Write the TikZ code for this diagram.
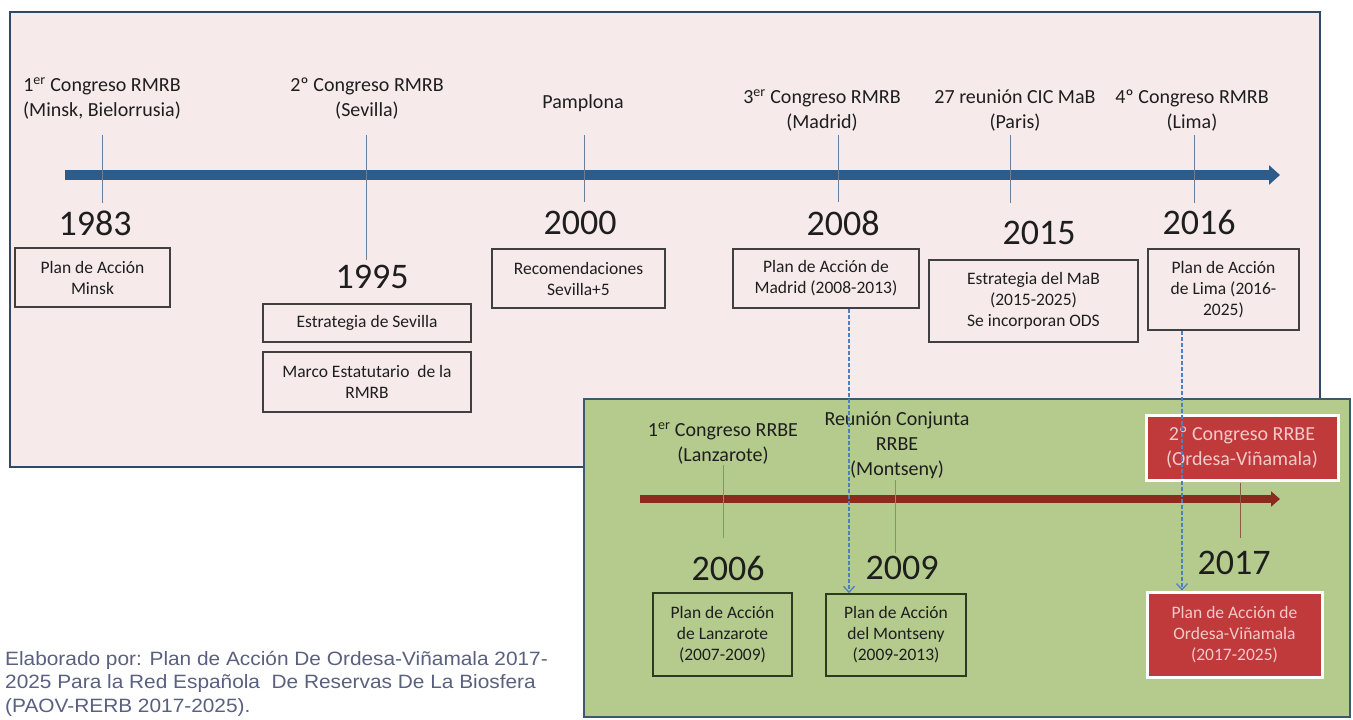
\documentclass[tikz,border=0pt]{standalone}
\usepackage{fontspec}
\setmainfont{Carlito}
\newfontfamily\capfont[FakeStretch=1.08]{Liberation Sans}
\usetikzlibrary{arrows.meta,shadows}
\definecolor{pinkbg}{HTML}{F6EBEA}
\definecolor{framecol}{HTML}{2F4A66}
\definecolor{bluetl}{HTML}{2E5C8A}
\definecolor{ticka}{HTML}{6A7F99}
\definecolor{boxline}{HTML}{404040}
\definecolor{greenbg}{HTML}{B4CB8D}
\definecolor{greenframe}{HTML}{3C5A6E}
\definecolor{redtl}{HTML}{8B2A1E}
\definecolor{tickr}{HTML}{D07060}
\definecolor{tickd}{HTML}{8B5A48}
\definecolor{gboxline}{HTML}{2E3B1F}
\definecolor{redfill}{HTML}{C0393B}
\definecolor{redtxt}{HTML}{F2CACA}
\definecolor{dashblue}{HTML}{4F7FC0}
\definecolor{txt}{HTML}{1E1E1E}
\definecolor{captxt}{HTML}{5A6080}
\begin{document}
\begin{tikzpicture}[x=1pt,y=-1pt,
  lbl/.style={align=center,font=\fontsize{20}{25}\selectfont,text=txt,inner sep=0pt},
  yr/.style={font=\fontsize{36}{36}\selectfont,text=txt,inner sep=0pt},
  pbox/.style={draw=boxline,line width=1.2pt,align=center,font=\fontsize{17.5}{21}\selectfont,inner sep=0pt,text=txt},
  gbox/.style={draw=gboxline,line width=1.6pt,align=center,font=\fontsize{17.5}{21}\selectfont,inner sep=0pt,text=txt},
  redbox/.style={fill=redfill,draw=white,line width=3pt,align=center,inner sep=0pt,text=redtxt,
    drop shadow={opacity=0.25,shadow xshift=2pt,shadow yshift=-2pt}},
  ticka/.style={draw=ticka,line width=1pt},
  tickr/.style={draw=tickr,line width=1pt},
  dasharr/.style={draw=dashblue,line width=1.3pt,dash pattern=on 4pt off 2pt,-{Straight Barb[length=6pt,width=11pt]}}
]
\useasboundingbox (0,0) rectangle (1353,720);
\fill[white] (0,0) rectangle (1353,720);

% ---------- pink frame ----------
\path[fill=pinkbg,draw=framecol,line width=2.5pt] (10,12) rectangle (1320,467);

% blue timeline
\draw[bluetl,line width=10pt,-{Triangle[length=11pt,width=19pt]}] (65,175) -- (1280,175);

% labels
\node[lbl] (l83) at (102,98.5) {1\textsuperscript{er} Congreso RMRB\\(Minsk, Bielorrusia)};
\node[lbl] (l95) at (367,98.5) {2º Congreso RMRB\\(Sevilla)};
\node[lbl] (l00) at (583,103) {Pamplona};
\node[lbl] (l08) at (822,110.5) {3\textsuperscript{er} Congreso RMRB\\(Madrid)};
\node[lbl] (l15) at (1015,111) {27 reunión CIC MaB\\(Paris)};
\node[lbl] (l16) at (1192,111) {4º Congreso RMRB\\(Lima)};

% ticks
\draw[ticka] (102,135) -- (102,203);
\draw[ticka] (366,135) -- (366,260);
\draw[ticka] (584,135) -- (584,202);
\draw[ticka] (838,135) -- (838,202);
\draw[ticka] (1010,135) -- (1010,203);
\draw[ticka] (1194,135) -- (1194,203);

% years
\node[yr] (y83) at (95,223) {1983};
\node[yr] (y95) at (372,277) {1995};
\node[yr] (y00) at (580,223) {2000};
\node[yr] (y08) at (843,223) {2008};
\node[yr] (y15) at (1039,233) {2015};
\node[yr] (y16) at (1199,222) {2016};

% boxes
\node[pbox,minimum width=155pt,minimum height=59pt] (minsk) at (92.5,277.5) {Plan de Acción\\Minsk};
\node[pbox,minimum width=208pt,minimum height=38pt] (sevilla) at (367,323) {Estrategia de Sevilla};
\node[pbox,minimum width=208pt,minimum height=60pt] (marco) at (367,382) {Marco Estatutario~~de la\\RMRB};
\node[pbox,minimum width=173pt,minimum height=59pt] (recom) at (578.5,278.5) {Recomendaciones\\Sevilla+5};
\node[pbox,minimum width=186pt,minimum height=59pt] (madrid) at (826,278.5) {Plan de Acción de\\Madrid (2008-2013)};
\node[pbox,minimum width=209pt,minimum height=82pt] (mab) at (1033.5,301) {Estrategia del MaB\\(2015-2025)\\Se incorporan ODS};
\node[pbox,minimum width=151pt,minimum height=81pt] (lima) at (1223.5,289.5) {Plan de Acción\\de Lima (2016-\\2025)};

% ---------- green frame ----------
\path[fill=greenbg,draw=greenframe,line width=2pt] (584,399) rectangle (1350,717);

% red timeline
\draw[redtl,line width=8pt,-{Triangle[length=9pt,width=15pt]}] (640,499) -- (1280,499);

\node[lbl] (l06) at (723,443.5) {1\textsuperscript{er} Congreso RRBE\\(Lanzarote)};
\node[lbl] (l09) at (897,445.5) {Reunión Conjunta\\RRBE\\(Montseny)};

\draw[tickr] (723,465) -- (723,538);
\draw[tickr] (895,480) -- (895,553);
\draw[draw=tickd,line width=1pt] (1240,483) -- (1240,538);

\node[yr] (y06) at (728,568) {2006};
\node[yr] (y09) at (902,568) {2009};
\node[yr] (y17) at (1234,563) {2017};

\node[gbox,minimum width=139pt,minimum height=83pt] (lanz) at (722.5,634.5) {Plan de Acción\\de Lanzarote\\(2007-2009)};
\node[gbox,minimum width=140pt,minimum height=82pt] (monts) at (896,635) {Plan de Acción\\del Montseny\\(2009-2013)};

\node[redbox,minimum width=192pt,minimum height=65pt,font=\fontsize{20}{25}\selectfont] (ordc) at (1242,447.5) {2º Congreso RRBE\\(Ordesa-Viñamala)};
\node[redbox,minimum width=175pt,minimum height=85pt,font=\fontsize{17.5}{21}\selectfont] (ordp) at (1234.5,634.5) {Plan de Acción de\\Ordesa-Viñamala\\(2017-2025)};

% dashed links
\draw[dasharr] (madrid.south -| 849,0) -- (monts.north -| 849,0);
\draw[dasharr] (lima.south -| 1182,0) -- (ordp.north -| 1182,0);

% caption
\node[anchor=north west,align=left,inner sep=0pt,text=captxt,font=\capfont\fontsize{19.3}{23.5}\selectfont] (cap) at (5,651)
  {Elaborado por: Plan de Acción De Ordesa-Viñamala 2017-\\2025 Para la Red Española~ De Reservas De La Biosfera\\(PAOV-RERB 2017-2025).};
\end{tikzpicture}
\end{document}
